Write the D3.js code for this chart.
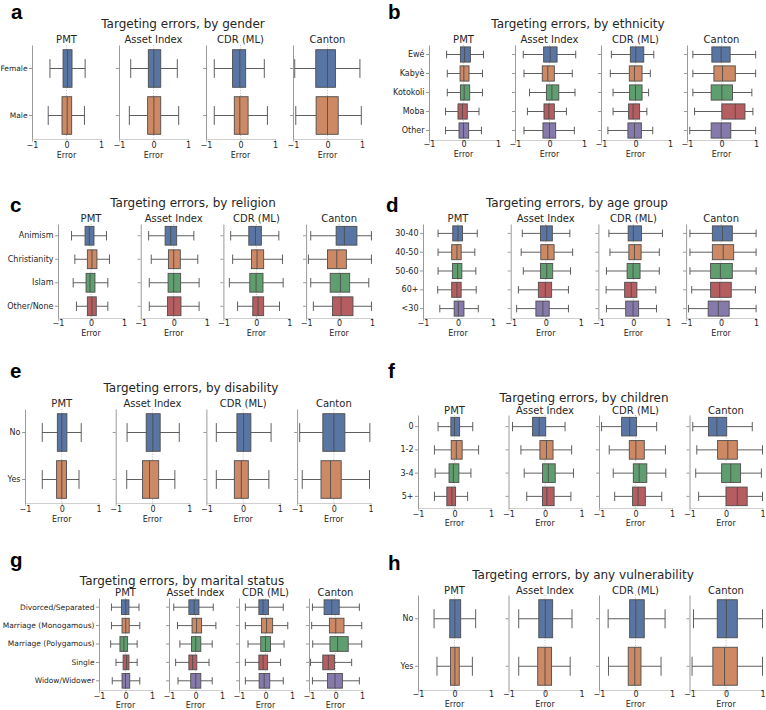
<!DOCTYPE html>
<html><head><meta charset="utf-8">
<script src="https://cdn.jsdelivr.net/npm/d3@7"></script>
<style>body{margin:0;background:#fff} svg{display:block}</style>
</head><body><svg id="chart" width="766" height="710"></svg>
<script>
const methods = ["PMT", "Asset Index", "CDR (ML)", "Canton"];
const xTicks = [-1, 0, 1];
const palette = ["#5975a4", "#cc8963", "#5f9e6e", "#b55d60", "#857aab"];

// stats per method: [whiskerLow, q1, median, q3, whiskerHigh] per category
const genderCats = ["Female", "Male"];
const genderStats = [
  [[-0.48,-0.10,0.03,0.16,0.54],[-0.53,-0.13,0.02,0.15,0.52]],
  [[-0.66,-0.15,0.01,0.21,0.69],[-0.70,-0.17,0.01,0.21,0.73]],
  [[-0.76,-0.23,-0.02,0.15,0.69],[-0.76,-0.18,-0.02,0.22,0.78]],
  [[-0.95,-0.34,0.00,0.23,0.94],[-0.92,-0.33,0.00,0.31,0.98]]
];

const ethnicityCats = ["Ewé", "Kabyè", "Kotokoli", "Moba", "Other"];
const ethnicityStats = [
  [[-0.49,-0.09,0.03,0.20,0.58],[-0.47,-0.10,0.01,0.16,0.55],[-0.47,-0.09,0.02,0.18,0.55],[-0.52,-0.16,-0.03,0.11,0.45],[-0.52,-0.13,0.00,0.15,0.52]],
  [[-0.76,-0.17,0.02,0.22,0.76],[-0.74,-0.21,-0.05,0.14,0.66],[-0.58,-0.09,0.07,0.27,0.74],[-0.64,-0.16,-0.02,0.14,0.49],[-0.74,-0.19,0.00,0.18,0.72]],
  [[-0.70,-0.15,0.01,0.24,0.53],[-0.73,-0.18,-0.03,0.19,0.43],[-0.65,-0.17,0.00,0.19,0.38],[-0.65,-0.20,-0.07,0.12,0.33],[-0.80,-0.22,-0.03,0.17,0.50]],
  [[-0.83,-0.28,-0.01,0.25,0.99],[-0.83,-0.22,0.03,0.40,0.99],[-0.83,-0.30,0.01,0.32,0.88],[-0.78,0.01,0.40,0.68,0.91],[-0.92,-0.30,-0.01,0.27,0.99]]
];

const religionCats = ["Animism", "Christianity", "Islam", "Other/None"];
const religionStats = [
  [[-0.59,-0.18,-0.05,0.09,0.47],[-0.49,-0.11,0.03,0.18,0.56],[-0.54,-0.15,-0.03,0.12,0.51],[-0.44,-0.11,0.03,0.16,0.51]],
  [[-0.76,-0.26,-0.09,0.09,0.61],[-0.68,-0.16,0.00,0.20,0.73],[-0.74,-0.17,0.00,0.21,0.77],[-0.74,-0.19,0.00,0.22,0.77]],
  [[-0.78,-0.23,-0.03,0.15,0.68],[-0.72,-0.15,0.02,0.22,0.79],[-0.82,-0.20,-0.01,0.20,0.81],[-0.57,-0.11,0.05,0.22,0.70]],
  [[-0.86,-0.09,0.16,0.54,0.98],[-0.93,-0.35,-0.07,0.22,0.98],[-0.86,-0.27,0.04,0.32,0.90],[-0.78,-0.20,0.06,0.42,0.98]]
];

const ageCats = ["30-40", "40-50", "50-60", "60+", "<30"];
const ageStats = [
  [[-0.57,-0.15,0.00,0.13,0.55],[-0.57,-0.18,-0.03,0.09,0.48],[-0.57,-0.16,-0.01,0.11,0.51],[-0.58,-0.18,-0.03,0.09,0.52],[-0.52,-0.11,0.01,0.17,0.58]],
  [[-0.67,-0.15,0.03,0.19,0.69],[-0.70,-0.14,0.06,0.24,0.77],[-0.64,-0.15,0.03,0.20,0.71],[-0.78,-0.21,-0.01,0.17,0.65],[-0.83,-0.28,-0.08,0.10,0.65]],
  [[-0.70,-0.15,0.00,0.23,0.83],[-0.67,-0.13,0.03,0.22,0.74],[-0.77,-0.18,-0.01,0.19,0.74],[-0.78,-0.25,-0.06,0.10,0.64],[-0.77,-0.22,-0.01,0.15,0.66]],
  [[-0.89,-0.25,0.04,0.32,1.00],[-0.89,-0.25,0.06,0.36,1.00],[-0.89,-0.30,-0.02,0.32,1.00],[-0.84,-0.30,-0.04,0.29,0.98],[-0.93,-0.37,-0.08,0.23,1.00]]
];

const disabilityCats = ["No", "Yes"];
const disabilityStats = [
  [[-0.53,-0.12,0.00,0.14,0.53],[-0.53,-0.14,0.00,0.13,0.47]],
  [[-0.69,-0.17,0.01,0.21,0.73],[-0.70,-0.27,-0.08,0.17,0.61]],
  [[-0.73,-0.17,0.01,0.21,0.76],[-0.73,-0.24,-0.05,0.14,0.70]],
  [[-0.93,-0.30,0.00,0.30,0.98],[-0.86,-0.35,-0.09,0.20,0.97]]
];

const childrenCats = ["0", "1-2", "3-4", "5+"];
const childrenStats = [
  [[-0.45,-0.10,0.00,0.14,0.50],[-0.55,-0.09,0.05,0.21,0.66],[-0.53,-0.15,-0.03,0.12,0.45],[-0.55,-0.21,-0.07,0.03,0.36]],
  [[-0.89,-0.34,-0.16,0.02,0.55],[-0.66,-0.14,0.04,0.22,0.73],[-0.57,-0.07,0.09,0.28,0.78],[-0.50,-0.07,0.05,0.25,0.71]],
  [[-0.93,-0.38,-0.16,0.03,0.58],[-0.72,-0.17,0.01,0.24,0.82],[-0.61,-0.06,0.10,0.31,0.83],[-0.57,-0.08,0.07,0.27,0.72]],
  [[-0.91,-0.48,-0.25,0.02,0.72],[-0.80,-0.23,0.05,0.31,1.00],[-0.83,-0.12,0.13,0.40,0.97],[-0.75,0.00,0.31,0.58,1.00]]
];

const maritalCats = ["Divorced/Separated", "Marriage (Monogamous)", "Marriage (Polygamous)", "Single", "Widow/Widower"];
const maritalStats = [
  [[-0.53,-0.15,0.01,0.13,0.51],[-0.53,-0.13,0.01,0.14,0.54],[-0.56,-0.21,-0.06,0.08,0.44],[-0.36,-0.09,0.04,0.13,0.44],[-0.50,-0.13,0.00,0.16,0.54]],
  [[-0.82,-0.25,-0.05,0.13,0.67],[-0.68,-0.13,0.04,0.23,0.77],[-0.59,-0.15,0.01,0.20,0.63],[-0.75,-0.25,-0.11,0.05,0.51],[-0.66,-0.18,0.01,0.20,0.63]],
  [[-0.76,-0.25,-0.09,0.11,0.67],[-0.76,-0.15,0.04,0.27,0.84],[-0.66,-0.18,0.00,0.19,0.70],[-0.76,-0.25,-0.09,0.08,0.57],[-0.76,-0.24,-0.05,0.16,0.67]],
  [[-0.87,-0.43,-0.14,0.14,0.90],[-0.90,-0.23,0.01,0.32,0.99],[-0.86,-0.21,0.08,0.48,0.99],[-0.94,-0.48,-0.27,-0.04,0.61],[-0.87,-0.30,-0.02,0.26,0.90]]
];

const vulnerabilityCats = ["No", "Yes"];
const vulnerabilityStats = [
  [[-0.56,-0.13,0.01,0.17,0.58],[-0.48,-0.11,0.01,0.13,0.49]],
  [[-0.72,-0.17,0.01,0.21,0.74],[-0.72,-0.20,0.00,0.18,0.69]],
  [[-0.75,-0.16,0.01,0.24,0.81],[-0.74,-0.20,-0.02,0.15,0.70]],
  [[-0.89,-0.24,0.01,0.31,1.00],[-0.93,-0.36,-0.04,0.31,1.00]]
];

const panelLetters = ["a","b","c","d","e","f","g","h"];
const panelTitles = [
  "Targeting errors, by gender", "Targeting errors, by ethnicity",
  "Targeting errors, by religion", "Targeting errors, by age group",
  "Targeting errors, by disability", "Targeting errors, by children",
  "Targeting errors, by marital status", "Targeting errors, by any vulnerability"
];
const panelCats = [genderCats, ethnicityCats, religionCats, ageCats, disabilityCats, childrenCats, maritalCats, vulnerabilityCats];
const panelStats = [genderStats, ethnicityStats, religionStats, ageStats, disabilityStats, childrenStats, maritalStats, vulnerabilityStats];

// layout (positions only)
const layouts = [
  {lx:11, ly:18.5, tx:183, ty:28, x0:32, w:69, pitch:87, top:45, bottom:139, sty:43, tky:148, ery:158, cf:7.5},
  {lx:388, ly:18.5, tx:578, ty:28, x0:429, w:69, pitch:86, top:45, bottom:140, sty:43, tky:147, ery:157, cf:8},
  {lx:10, ly:212, tx:193, ty:207, x0:58, w:66, pitch:82.7, top:224, bottom:318, sty:222, tky:326, ery:336, cf:8},
  {lx:386, ly:212, tx:577, ty:207, x0:423, w:70, pitch:87.7, top:224, bottom:318, sty:222, tky:326, ery:336, cf:8},
  {lx:10, ly:378, tx:191, ty:392, x0:25, w:73.5, pitch:90.7, top:409, bottom:503, sty:407, tky:512, ery:522, cf:8},
  {lx:388, ly:378, tx:584, ty:401.5, x0:418, w:73, pitch:90.5, top:415, bottom:508, sty:413.5, tky:517, ery:526, cf:8},
  {lx:10, ly:567, tx:182, ty:584.5, x0:99, w:53, pitch:70, top:598, bottom:690, sty:596, tky:699, ery:708, cf:7.5},
  {lx:388, ly:570, tx:583, ty:579, x0:418, w:73, pitch:90.5, top:595, bottom:690, sty:594, tky:697, ery:707, cf:8}
];

const svg = d3.select("#chart");
const FONT = "DejaVu Sans, sans-serif";
const TXT = "#262626";
const LINE = "#4d4d4d";
const fmt = d3.format("d");

layouts.forEach((L, p) => {
  const g = svg.append("g");
  const cats = panelCats[p];
  const stats = panelStats[p];

  g.append("text").attr("x", L.lx).attr("y", L.ly)
    .attr("font-family", "Liberation Sans, Arial, sans-serif").attr("font-weight", "bold")
    .attr("font-size", 20.5).attr("fill", "#000").text(panelLetters[p]);
  g.append("text").attr("x", L.tx).attr("y", L.ty).attr("text-anchor", "middle")
    .attr("font-family", FONT).attr("font-size", 12).attr("fill", TXT).text(panelTitles[p]);

  methods.forEach((m, mi) => {
    const left = L.x0 + mi * L.pitch;
    const x = d3.scaleLinear().domain([-1, 1]).range([left, left + L.w]);
    const y = d3.scaleBand().domain(cats).range([L.top, L.bottom]).padding(0);
    const bh = y.bandwidth() * 0.8;
    const sg = g.append("g");

    sg.append("text").attr("x", x(0)).attr("y", L.sty).attr("text-anchor", "middle")
      .attr("font-family", FONT).attr("font-size", 10).attr("fill", TXT).text(m);

    // zero reference line
    sg.append("line").attr("x1", x(0)).attr("x2", x(0)).attr("y1", L.top).attr("y2", L.bottom)
      .attr("stroke", "#b0b0b0").attr("stroke-width", 0.8).attr("stroke-dasharray", "1,1.5");

    // x axis
    const xa = sg.append("g").attr("transform", `translate(0,${L.bottom})`)
      .call(d3.axisBottom(x).tickValues(xTicks).tickFormat(fmt).tickSize(3).tickSizeOuter(0));
    xa.select(".domain").attr("stroke", "#cfcfcf").attr("stroke-width", 1);
    xa.selectAll(".tick line").attr("stroke", "#bdbdbd");
    xa.selectAll(".tick text").attr("font-family", FONT).attr("font-size", 8).attr("fill", TXT)
      .attr("y", L.tky - L.bottom).attr("dy", 0);
    sg.append("text").attr("x", x(0)).attr("y", L.ery).attr("text-anchor", "middle")
      .attr("font-family", FONT).attr("font-size", 8).attr("fill", TXT).text("Error");

    // y axis
    const ya = sg.append("g").attr("transform", `translate(${left},0)`)
      .call(d3.axisLeft(y).tickSize(3).tickSizeOuter(0).tickFormat(mi === 0 ? (d => d) : () => ""));
    ya.select(".domain").attr("stroke", "#9a9a9a").attr("stroke-width", 1);
    ya.selectAll(".tick line").attr("stroke", "#9a9a9a");
    ya.selectAll(".tick text").attr("font-family", FONT).attr("font-size", L.cf).attr("fill", TXT).attr("x", -4.5);

    // boxes
    cats.forEach((c, ci) => {
      const s = stats[mi][ci];
      const cy = y(c) + y.bandwidth() / 2;
      const bg = sg.append("g");
      bg.append("line").attr("x1", x(s[0])).attr("x2", x(s[1])).attr("y1", cy).attr("y2", cy)
        .attr("stroke", LINE).attr("stroke-width", 0.9);
      bg.append("line").attr("x1", x(s[3])).attr("x2", x(s[4])).attr("y1", cy).attr("y2", cy)
        .attr("stroke", LINE).attr("stroke-width", 0.9);
      [s[0], s[4]].forEach(v => {
        bg.append("line").attr("x1", x(v)).attr("x2", x(v)).attr("y1", cy - bh / 4).attr("y2", cy + bh / 4)
          .attr("stroke", LINE).attr("stroke-width", 0.9);
      });
      bg.append("rect").attr("x", x(s[1])).attr("y", cy - bh / 2)
        .attr("width", x(s[3]) - x(s[1])).attr("height", bh)
        .attr("fill", palette[ci]).attr("stroke", LINE).attr("stroke-width", 0.9);
      bg.append("line").attr("x1", x(s[2])).attr("x2", x(s[2])).attr("y1", cy - bh / 2).attr("y2", cy + bh / 2)
        .attr("stroke", LINE).attr("stroke-width", 0.9);
    });
  });
});
</script></body></html>
